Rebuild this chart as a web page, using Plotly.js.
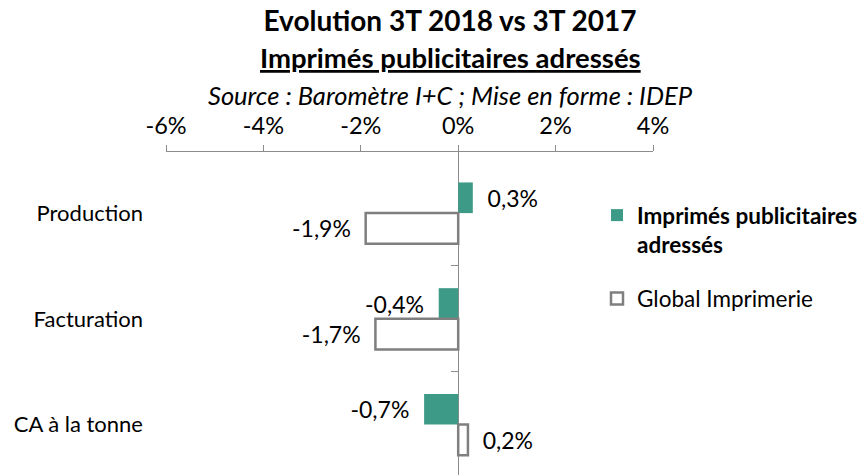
<!DOCTYPE html>
<html>
<head>
<meta charset="utf-8">
<script src="https://cdn.plot.ly/plotly-3.0.1.min.js"></script>
<style>html,body{margin:0;padding:0;background:#fff;}</style>
</head>
<body>
<div id="chart" style="width:863px;height:475px;"></div>
<script>
const categories = ["Production", "Facturation", "CA à la tonne"];
const seriesNames = ["Imprimés publicitaires adressés", "Global Imprimerie"];
const imprimesValues = [0.3, -0.4, -0.7];
const globalValues = [-1.9, -1.7, 0.2];
const xTickValues = [-6, -4, -2, 0, 2, 4];

const FONT = "Lato, 'Open Sans', sans-serif";
const PAD = '\u00a0\u00a0';
const fmt = v => {
  const s = v.toFixed(1).replace('.', ',') + '%';
  return v < 0 ? s + PAD : PAD + s;
};

const traces = [
  {
    type: 'bar', orientation: 'h',
    name: '<b>Imprimés publicitaires<br>adressés</b>',
    x: imprimesValues, y: categories,
    marker: {color: '#3D9A86', line: {width: 0}},
    text: imprimesValues.map(fmt), textposition: 'outside',
    textfont: {family: FONT, size: 23, color: '#000'},
    cliponaxis: false, constraintext: 'none',
    legendgroup: 'a', hoverinfo: 'skip'
  },
  {
    type: 'bar', orientation: 'h',
    name: seriesNames[1],
    x: globalValues, y: categories,
    marker: {color: '#FFFFFF', line: {color: '#7F7F7F', width: 2.5}},
    text: globalValues.map(fmt), textposition: 'outside',
    textfont: {family: FONT, size: 23, color: '#000'},
    cliponaxis: false, constraintext: 'none',
    legendgroup: 'b', hoverinfo: 'skip'
  }
];

const layout = {
  width: 863, height: 475,
  margin: {l: 166, r: 209, t: 152, b: 0, pad: 0},
  paper_bgcolor: '#fff', plot_bgcolor: 'rgba(0,0,0,0)',
  font: {family: FONT, size: 22, color: '#000'},
  separators: ', ',
  barmode: 'group', bargap: 0.42, bargroupgap: 0,
  title: {
    text: '<b>Evolution 3T 2018 vs 3T 2017</b>',
    font: {family: FONT, size: 28, color: '#000'},
    x: 450/863, xanchor: 'center', xref: 'container',
    y: 1 - 21/475, yanchor: 'middle', yref: 'container'
  },
  annotations: [
    {text: '<b><u>Imprimés publicitaires adressés</u></b>', xref: 'paper', yref: 'paper',
     x: (451-166)/488, y: (475-58)/323, xanchor: 'center', yanchor: 'middle', showarrow: false,
     font: {family: FONT, size: 27.5, color: '#000'}},
    {text: '<i>Source : Baromètre I+C ; Mise en forme : IDEP</i>', xref: 'paper', yref: 'paper',
     x: (451-166)/488, y: (475-95)/323, xanchor: 'center', yanchor: 'middle', showarrow: false,
     font: {family: FONT, size: 25.5, color: '#000'}}
  ],
  xaxis: {
    side: 'top', range: [-6, 4], tickmode: 'array', tickvals: xTickValues,
    ticktext: xTickValues.map(v => v + '%'),
    showline: true, linecolor: '#8C8C8C', linewidth: 1,
    ticks: 'outside', ticklen: 6, tickcolor: '#8C8C8C', tickwidth: 1,
    ticklabelstandoff: 2,
    showgrid: false, zeroline: true, zerolinecolor: '#8C8C8C', zerolinewidth: 1,
    tickfont: {family: FONT, size: 23.5, color: '#000'}, fixedrange: true
  },
  yaxis: {
    type: 'category', range: [2.477, -0.578],
    showline: false, showgrid: false, zeroline: false, ticks: '',
    ticklabelstandoff: 22,
    tickfont: {family: FONT, size: 22, color: '#000'}, fixedrange: true
  },
  yaxis2: {
    overlaying: 'y', anchor: 'free', position: 0.6, side: 'left',
    range: [2.477, -0.578], tickmode: 'array', tickvals: [0.5, 1.5],
    ticks: 'outside', ticklen: 7, tickcolor: '#8C8C8C',
    showticklabels: false, showline: false, showgrid: false, zeroline: false, fixedrange: true
  },
  showlegend: true,
  legend: {
    x: 0.885, xanchor: 'left', y: 0.87, yanchor: 'top', valign: 'top',
    bgcolor: 'rgba(0,0,0,0)', traceorder: 'grouped', tracegroupgap: 22,
    font: {family: FONT, size: 22.5, color: '#000'}
  }
};

// invisible helper trace so the zero-position tick axis is drawn
traces.push({type: 'scatter', x: [0], y: [0], yaxis: 'y2', mode: 'markers',
  marker: {opacity: 0}, showlegend: false, hoverinfo: 'skip'});

Plotly.newPlot('chart', traces, layout, {displayModeBar: false, staticPlot: true});
</script>
</body>
</html>
